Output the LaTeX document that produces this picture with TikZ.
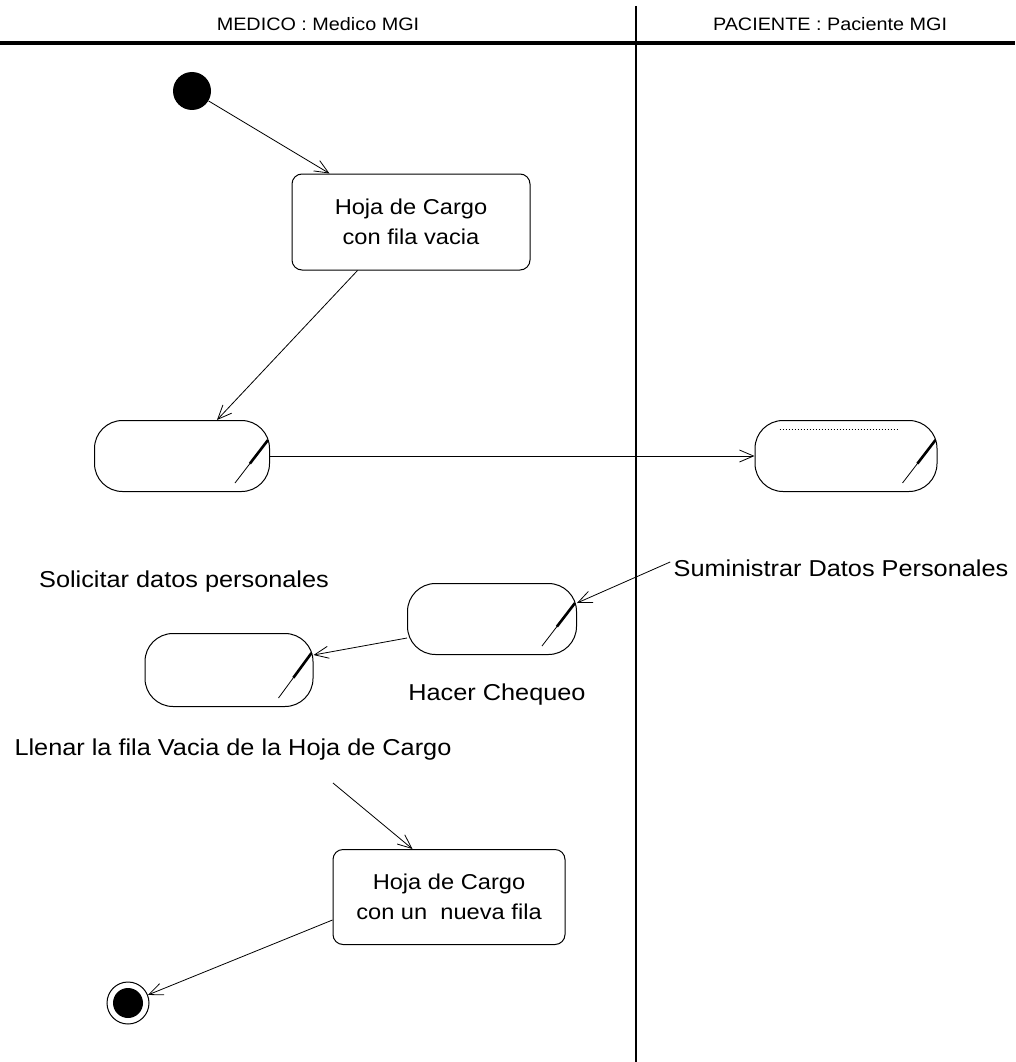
\documentclass[tikz,border=0pt]{standalone}
\usepackage{fontspec}
\setmainfont{Liberation Sans}[FakeStretch=1.1]
\usetikzlibrary{arrows.meta,calc}

\tikzset{
  umlarrow/.style={-{Straight Barb[length=14pt,width=12pt]}, line width=0.8pt},
  actbox/.style={draw, line width=1pt, rounded corners=28pt, minimum width=172pt, minimum height=71pt},
  objbox/.style={draw, line width=1pt, rounded corners=10pt, minimum width=238pt, minimum height=96pt,
    align=center, font=\fontsize{21.5}{30}\selectfont},
  actlabel/.style={font=\fontsize{23}{27}\selectfont},
  lanelabel/.style={font=\fontsize{18}{20}\selectfont},
}

% marca diagonal de las actividades
\newcommand\actslash[1]{%
  \draw[line width=0.8pt] ([shift={(-35,-9)}]#1.south east) -- ([shift={(-2,20)}]#1.north east);
  \draw[line width=2.6pt] ($([shift={(-35,-9)}]#1.south east)!0.45!([shift={(-2,20)}]#1.north east)$)
    -- ([shift={(-2,20)}]#1.north east);
}

\begin{document}
\begin{tikzpicture}[x=1pt,y=-1pt]
  \useasboundingbox (0,0) rectangle (1015,1062);

  % carriles
  \node[lanelabel] (medico) at (318,24) {MEDICO : Medico MGI};
  \node[lanelabel] (paciente) at (830,24) {PACIENTE : Paciente MGI};
  \draw[line width=4pt] (0,43) -- (1015,43);
  \draw[line width=1.6pt] (636,6) -- (636,1062);

  % nodos
  \node[circle, fill, minimum size=38pt, inner sep=0pt] (inicio) at (192,91) {};
  \node[objbox] (hoja1) at (411,222) {Hoja de Cargo\\con fila vacia};
  \node[actbox, minimum width=175pt] (solicitar) at (182,456) {};
  \node[actbox, minimum width=182pt] (suministrar) at (846,456) {};
  \node[actbox, minimum width=169pt] (chequeo) at (492,619) {};
  \node[actbox, minimum width=168pt, minimum height=73pt] (llenar) at (229,670) {};
  \node[objbox, minimum width=232pt, minimum height=95pt] (hoja2) at (449,897) {Hoja de Cargo\\con un~ nueva fila};
  \node[circle, draw, line width=1pt, minimum size=42pt, inner sep=0pt] (fin) at (128,1003) {};
  \fill (fin) circle (15pt);

  \actslash{solicitar}
  \actslash{suministrar}
  \actslash{chequeo}
  \actslash{llenar}
  \draw[dotted, line width=1pt] ([shift={(25,9)}]suministrar.north west) -- ([shift={(-40,9)}]suministrar.north east);

  % etiquetas
  \node[actlabel] (lsolicitar) at (184,582) {Solicitar datos personales};
  \node[actlabel] (lsuministrar) at (841,568) {Suministrar Datos Personales};
  \node[actlabel] (lchequeo) at (497,695) {Hacer Chequeo};
  \node[actlabel] (lllenar) at (233,750) {Llenar la fila Vacia de la Hoja de Cargo};
  \coordinate (desdellenar) at (333,783);

  % flujos
  \draw[umlarrow] (inicio) -- ([xshift=38]hoja1.north west);
  \draw[umlarrow] ([xshift=66]hoja1.south west) -- ([xshift=123]solicitar.north west);
  \draw[umlarrow] (solicitar.east) -- (suministrar.west);
  \draw[umlarrow] ([yshift=6]lsuministrar.west) -- ([yshift=-20]chequeo.north east);
  \draw[umlarrow] ([yshift=-19]chequeo.west) -- ([yshift=15]llenar.east);
  \draw[umlarrow] (desdellenar) -- ([xshift=80]hoja2.north west);
  \draw[umlarrow] ([yshift=-23]hoja2.west) -- (fin);
\end{tikzpicture}
\end{document}
